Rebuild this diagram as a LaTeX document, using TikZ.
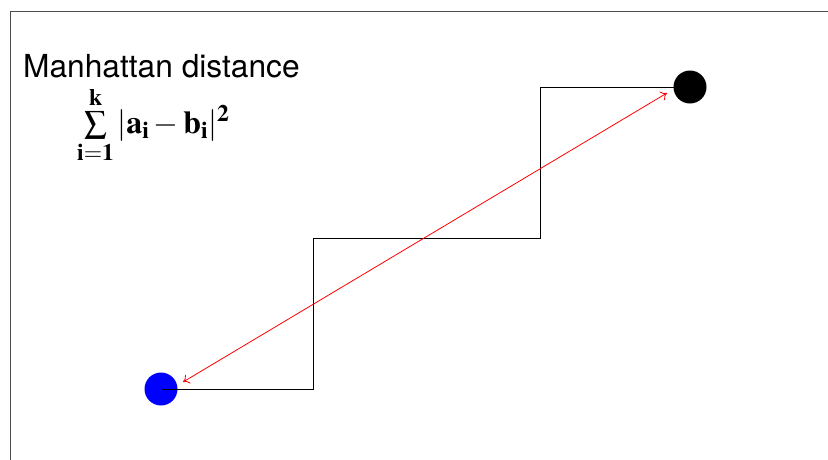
\documentclass[tikz,border=0pt]{standalone}
\usepackage{mathptmx}
\usepackage[no-math]{fontspec}
\newfontfamily\helv{TeX Gyre Heros}
\usetikzlibrary{arrows.meta}
\begin{document}
\begin{tikzpicture}[x=1pt,y=-1pt,
  dot/.style={circle,inner sep=0pt,minimum size=33pt},
  frameline/.style={draw=black!70,line width=1pt},
  walk/.style={draw=black,line width=0.9pt},
  ray/.style={draw=red,line width=0.8pt,{To[length=6pt,width=10pt]}-{To[length=6pt,width=10pt]}}]
\useasboundingbox (0,0) rectangle (828,459);
\draw[frameline] (10.5,11) rectangle (840,470);
\node[dot,fill=blue] (a) at (161,389) {};
\coordinate (p1) at (313,389);
\coordinate (p2) at (313,238);
\coordinate (p3) at (540,238);
\coordinate (p4) at (540,87);
\coordinate (bc) at (690,87);
\draw[walk] (a.center) -- (p1) -- (p2) -- (p3) -- (p4) -- (bc);
\node[dot,fill=black] (b) at (bc) {};
\coordinate (r1) at (183,382);
\coordinate (r2) at (667,93);
\draw[ray] (r1) -- (r2);
\node[anchor=base west,inner sep=0pt,font={\helv\fontsize{31.7}{38}\selectfont}] (title) at (23,77) {Manhattan distance};
\node[anchor=west,inner sep=0pt,font={\fontsize{32}{38}\selectfont}] (formula) at (77,125) {$\textstyle\sum\limits_{\mathbf{i=1}}^{\mathbf{k}}|\mathbf{a}_{\mathbf{i}}-\mathbf{b}_{\mathbf{i}}|^{\mathbf{2}}$};
\end{tikzpicture}
\end{document}
